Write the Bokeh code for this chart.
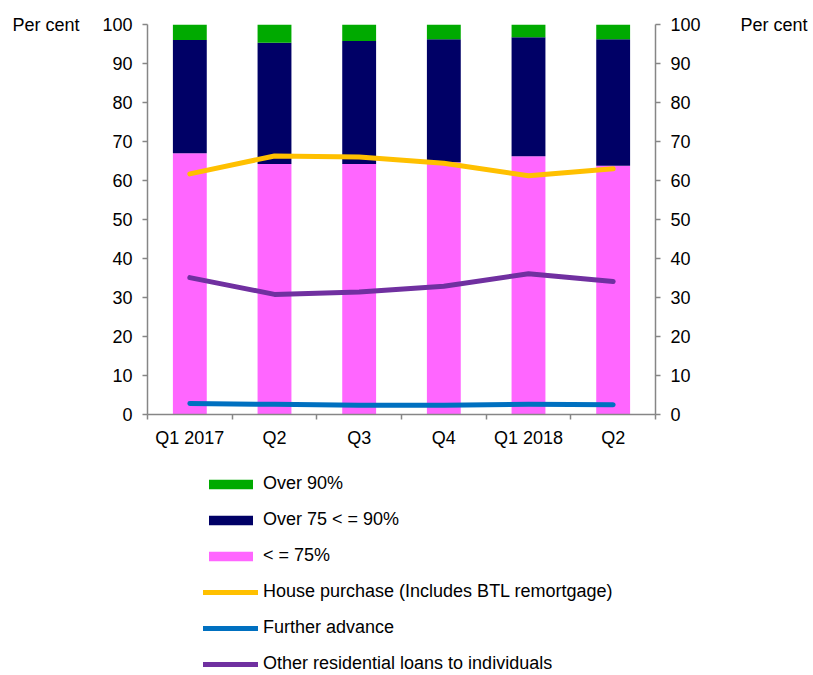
from bokeh.plotting import figure
from bokeh.models import (FixedTicker, LinearAxis, Range1d, Legend, LegendItem,
                          ColumnDataSource)
from bokeh.layouts import column
from bokeh.embed import file_html
from bokeh.resources import INLINE

categories = ["Q1 2017", "Q2", "Q3", "Q4", "Q1 2018", "Q2"]
le75 = [67.0, 64.2, 64.2, 64.7, 66.2, 63.8]
over75_le90 = [29.0, 31.1, 31.6, 31.5, 30.5, 32.4]
over90 = [4.0, 4.7, 4.2, 3.8, 3.3, 3.8]
house_purchase = [61.7, 66.3, 66.0, 64.4, 61.2, 63.0]
further_advance = [2.8, 2.6, 2.4, 2.4, 2.6, 2.5]
other_residential = [35.1, 30.8, 31.4, 32.9, 36.1, 34.1]
y_ticks = list(range(0, 101, 10))

FONT = "Liberation Sans"
FS = "18px"
AXIS_COL = "#868686"
BAR_COLORS = ["#FF66FF", "#000066", "#00AA00"]
LINE_COLORS = ["#FFC000", "#0070C0", "#7030A0"]

xs = [i + 0.5 for i in range(len(categories))]
src = ColumnDataSource(dict(x=xs, le75=le75, mid=over75_le90, top=over90,
                            hp=house_purchase, fa=further_advance, oth=other_residential))


def draw_series(fig):
    bars = fig.vbar_stack(["le75", "mid", "top"], x="x", width=0.4, source=src,
                          color=BAR_COLORS, line_color=None)
    lines = [fig.line("x", col, source=src, line_color=c, line_width=5,
                      line_cap="round", line_join="round")
             for col, c in zip(["hp", "fa", "oth"], LINE_COLORS)]
    return bars, lines


p = figure(width=810, height=455, output_backend="svg", toolbar_location=None,
           x_range=Range1d(0, len(categories)), y_range=Range1d(0, 100),
           min_border_left=147, min_border_right=154, min_border_top=24,
           min_border_bottom=41)
p.outline_line_color = None
p.grid.visible = False
p.xaxis.visible = False
p.yaxis.visible = False
draw_series(p)


def style_axis(ax):
    ax.axis_line_color = AXIS_COL
    ax.axis_line_width = 1.5
    ax.major_tick_line_color = AXIS_COL
    ax.minor_tick_line_color = AXIS_COL
    ax.major_tick_line_width = 1.5
    ax.minor_tick_line_width = 1.5
    ax.major_label_text_font = FONT
    ax.major_label_text_font_size = FS
    ax.major_label_text_color = "#000000"
    ax.axis_label_text_font = FONT
    ax.axis_label_text_font_size = FS
    ax.axis_label_text_font_style = "normal"
    ax.axis_label_text_color = "#000000"


xaxis = LinearAxis(ticker=FixedTicker(ticks=xs, minor_ticks=list(range(len(categories) + 1))))
xaxis.major_label_overrides = {x: c for x, c in zip(xs, categories)}
style_axis(xaxis)
xaxis.major_tick_out = 0
xaxis.major_tick_in = 0
xaxis.minor_tick_out = 5
xaxis.minor_tick_in = 0
xaxis.major_label_standoff = 8
p.add_layout(xaxis, "below")

for side, standoff in (("left", 20), ("right", 37)):
    ax = LinearAxis(ticker=FixedTicker(ticks=y_ticks, minor_ticks=[]))
    style_axis(ax)
    ax.major_tick_out = 5
    ax.major_tick_in = 0
    ax.minor_tick_out = 0
    ax.major_label_standoff = 10
    ax.axis_label = "Per cent"
    ax.axis_label_orientation = "horizontal"
    ax.axis_label_align = "end"
    ax.axis_label_standoff = standoff
    p.add_layout(ax, side)

# Legend panel: same series drawn outside its visible range, only the legend shows
lg = figure(width=810, height=219, output_backend="svg", toolbar_location=None,
            x_range=Range1d(0, len(categories)), y_range=Range1d(1000, 1001),
            min_border_left=147, min_border_top=0, min_border_right=154,
            min_border_bottom=0)
lg.outline_line_color = None
lg.axis.visible = False
lg.grid.visible = False
sw_bars, sw_lines = draw_series(lg)

legend = Legend(items=[
    LegendItem(label="Over 90%", renderers=[sw_bars[2]]),
    LegendItem(label="Over 75 < = 90%", renderers=[sw_bars[1]]),
    LegendItem(label="< = 75%", renderers=[sw_bars[0]]),
    LegendItem(label="House purchase (Includes BTL remortgage)", renderers=[sw_lines[0]]),
    LegendItem(label="Further advance", renderers=[sw_lines[1]]),
    LegendItem(label="Other residential loans to individuals", renderers=[sw_lines[2]]),
], location=(56, 0))
legend.glyph_width = 55
legend.glyph_height = 12
legend.label_height = 20
legend.spacing = 15
legend.padding = 0
legend.margin = 0
legend.label_standoff = 5
legend.label_text_font = FONT
legend.label_text_font_size = FS
legend.label_text_color = "#000000"
legend.border_line_color = None
legend.background_fill_alpha = 0
lg.add_layout(legend, "center")

open("out.html", "w").write(file_html(column(p, lg), INLINE))
